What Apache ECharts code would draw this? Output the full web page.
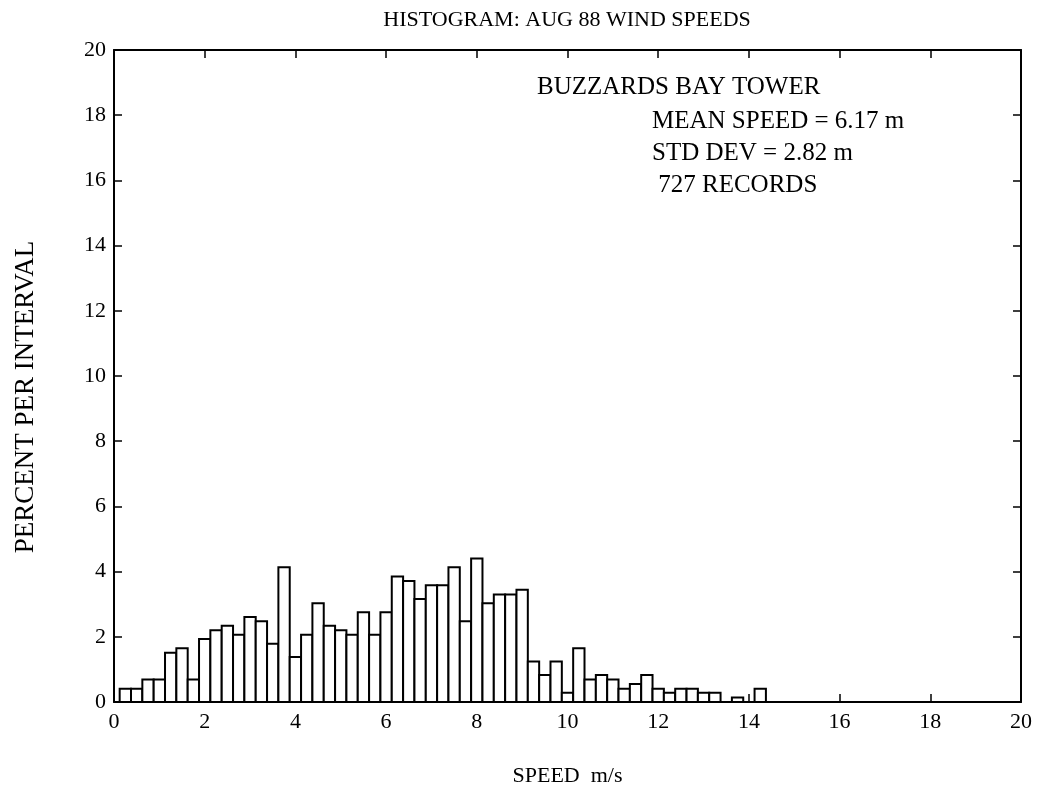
<!DOCTYPE html>
<html>
<head>
<meta charset="utf-8">
<script src="https://cdn.jsdelivr.net/npm/echarts@6/dist/echarts.min.js"></script>
<style>
  html, body { margin: 0; padding: 0; background: #fff; }
  #chart { width: 1040px; height: 793px; }
</style>
</head>
<body>
<div id="chart"></div>
<script>
// bin centres (m/s), bins are 0.25 m/s wide
const binCenters = [
    0.25, 0.5, 0.75, 1.0, 1.25, 1.5, 1.75, 2.0, 2.25, 2.5,
    2.75, 3.0, 3.25, 3.5, 3.75, 4.0, 4.25, 4.5, 4.75, 5.0,
    5.25, 5.5, 5.75, 6.0, 6.25, 6.5, 6.75, 7.0, 7.25, 7.5,
    7.75, 8.0, 8.25, 8.5, 8.75, 9.0, 9.25, 9.5, 9.75, 10.0,
    10.25, 10.5, 10.75, 11.0, 11.25, 11.5, 11.75, 12.0, 12.25, 12.5,
    12.75, 13.0, 13.25, 13.5, 13.75, 14.0, 14.25
];
// percent of the 727 records in each bin
const percents = [
    0.41, 0.41, 0.69, 0.69, 1.51, 1.65, 0.69, 1.93, 2.20, 2.34,
    2.06, 2.61, 2.48, 1.79, 4.13, 1.38, 2.06, 3.03, 2.34, 2.20,
    2.06, 2.75, 2.06, 2.75, 3.85, 3.71, 3.16, 3.58, 3.58, 4.13,
    2.48, 4.40, 3.03, 3.30, 3.30, 3.44, 1.24, 0.83, 1.24, 0.28,
    1.65, 0.69, 0.83, 0.69, 0.41, 0.55, 0.83, 0.41, 0.28, 0.41,
    0.41, 0.28, 0.28, 0, 0.14, 0, 0.41
];
const binWidth = 0.25;

const infoLines = [
    'BUZZARDS BAY TOWER',
    'MEAN SPEED = 6.17 m',
    'STD DEV = 2.82 m',
    ' 727 RECORDS'
];

const FONT = 'Liberation Serif';

const chart = echarts.init(document.getElementById('chart'));

// shared look for all four frame axes
const axisCommon = {
    type: 'value',
    min: 0,
    max: 20,
    interval: 2,
    splitLine: { show: false },
    axisLine: { show: true, onZero: false, lineStyle: { color: '#000', width: 2 } },
    axisTick: { show: true, inside: true, length: 8, lineStyle: { color: '#000', width: 1.5 } }
};

function infoText(idx, x, y) {
    return {
        type: 'text', x: x, y: y,
        style: { text: infoLines[idx], fontFamily: FONT, fontSize: 25, fill: '#000', verticalAlign: 'middle' }
    };
}

const option = {
    backgroundColor: '#fff',
    animation: false,
    grid: { left: 114, right: 19, top: 50, bottom: 91 },
    xAxis: [
        Object.assign({}, axisCommon, {
            position: 'bottom',
            axisLabel: { color: '#000', fontFamily: FONT, fontSize: 22, margin: 9 },
            name: 'SPEED  m/s',
            nameLocation: 'middle',
            nameGap: 63,
            nameTextStyle: { color: '#000', fontFamily: FONT, fontSize: 22 }
        }),
        Object.assign({}, axisCommon, {
            position: 'top',
            axisLabel: { show: false }
        })
    ],
    yAxis: [
        Object.assign({}, axisCommon, {
            position: 'left',
            axisLabel: { color: '#000', fontFamily: FONT, fontSize: 22, margin: 8 }
        }),
        Object.assign({}, axisCommon, {
            position: 'right',
            axisLabel: { show: false }
        })
    ],
    graphic: [
        {
            type: 'text',
            x: 567, y: 20,
            style: {
                text: 'HISTOGRAM: AUG 88 WIND SPEEDS',
                fontFamily: FONT, fontSize: 22, fill: '#000',
                align: 'center', verticalAlign: 'middle'
            }
        },
        {
            type: 'text',
            x: 26, y: 397,
            rotation: Math.PI / 2,
            style: {
                text: 'PERCENT PER INTERVAL',
                fontFamily: FONT, fontSize: 27, fill: '#000',
                align: 'center', verticalAlign: 'middle'
            }
        },
        infoText(0, 537, 87),
        infoText(1, 652, 121),
        infoText(2, 652, 153),
        infoText(3, 652, 185)
    ],
    series: [{
        type: 'custom',
        xAxisIndex: 0,
        yAxisIndex: 0,
        data: binCenters.map((x, i) => [x, percents[i]]),
        renderItem: function (params, api) {
            const x = api.value(0);
            const y = api.value(1);
            if (y <= 0) return null;
            const p0 = api.coord([x - binWidth / 2, y]);
            const p1 = api.coord([x + binWidth / 2, 0]);
            return {
                type: 'rect',
                shape: { x: p0[0], y: p0[1], width: p1[0] - p0[0], height: p1[1] - p0[1] },
                style: { fill: '#fff', stroke: '#000', lineWidth: 2 }
            };
        }
    }]
};

chart.setOption(option);
</script>
</body>
</html>
